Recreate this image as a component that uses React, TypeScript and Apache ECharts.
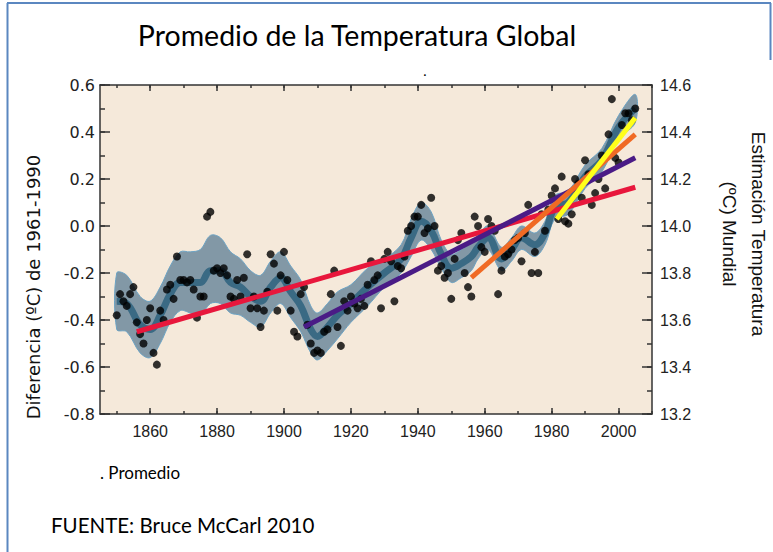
import React, { useEffect, useRef } from "react";
import * as echarts from "echarts";

// Annual global temperature anomaly (°C, relative to 1961-1990), 1850..2005
const startYear = 1850;
const anomalies = [
  -0.38, -0.29, -0.32, -0.34, -0.29, -0.26, -0.41, -0.46, -0.5, -0.4,
  -0.35, -0.54, -0.59, -0.36, -0.4, -0.27, -0.25, -0.31, -0.13, -0.23,
  -0.23, -0.24, -0.23, -0.27, -0.39, -0.3, -0.3, 0.04, 0.06, -0.19,
  -0.18, -0.2, -0.18, -0.21, -0.3, -0.31, -0.23, -0.3, -0.22, -0.12,
  -0.35, -0.3, -0.35, -0.43, -0.36, -0.28, -0.12, -0.16, -0.36, -0.21,
  -0.11, -0.23, -0.36, -0.45, -0.47, -0.29, -0.26, -0.42, -0.5, -0.54,
  -0.53, -0.54, -0.45, -0.44, -0.29, -0.19, -0.43, -0.51, -0.32, -0.36,
  -0.3, -0.33, -0.35, -0.31, -0.34, -0.25, -0.15, -0.23, -0.21, -0.35,
  -0.14, -0.11, -0.15, -0.32, -0.17, -0.18, -0.13, -0.02, 0.0, 0.04,
  0.04, 0.09, -0.03, -0.01, 0.12, 0.0, -0.19, -0.17, -0.22, -0.2,
  -0.31, -0.14, -0.06, -0.03, -0.2, -0.26, -0.3, 0.04, 0.0, -0.09,
  -0.11, 0.03, 0.0, -0.02, -0.29, -0.19, -0.13, -0.12, -0.1, -0.06,
  -0.05, -0.15, -0.03, 0.09, -0.2, -0.11, -0.2, 0.05, -0.02, 0.07,
  0.13, 0.16, 0.03, 0.21, 0.02, 0.01, 0.05, 0.2, 0.18, 0.12,
  0.28, 0.22, 0.09, 0.14, 0.2, 0.3, 0.16, 0.39, 0.54, 0.29,
  0.27, 0.43, 0.48, 0.48, 0.45, 0.5,
];

// Decadal smoothed curve and its uncertainty band
const smoothYears = [
  1850, 1853, 1857, 1860, 1863, 1866, 1869, 1872, 1875, 1878, 1881, 1884,
  1887, 1890, 1893, 1896, 1899, 1902, 1905, 1908, 1910, 1913, 1916, 1920,
  1925, 1930, 1935, 1938, 1941, 1944, 1947, 1950, 1953, 1956, 1958, 1961,
  1965, 1968, 1971, 1975, 1978, 1981, 1985, 1990, 1995, 2000, 2005,
];
const smoothValues = [
  -0.32, -0.33, -0.42, -0.44, -0.38, -0.29, -0.24, -0.24, -0.24, -0.19, -0.19, -0.24,
  -0.26, -0.3, -0.32, -0.26, -0.22, -0.28, -0.34, -0.44, -0.47, -0.43, -0.38, -0.33,
  -0.26, -0.2, -0.14, -0.05, 0.02, -0.02, -0.12, -0.18, -0.16, -0.13, -0.09, -0.05,
  -0.14, -0.1, -0.05, -0.08, -0.03, 0.08, 0.1, 0.21, 0.28, 0.42, 0.5,
];
const bandUpper = [
  -0.2, -0.21, -0.3, -0.32, -0.26, -0.17, -0.11, -0.11, -0.1, -0.04, -0.05, -0.11,
  -0.14, -0.19, -0.21, -0.15, -0.11, -0.17, -0.23, -0.34, -0.37, -0.33, -0.28, -0.25,
  -0.18, -0.14, -0.08, 0.03, 0.1, 0.06, -0.06, -0.12, -0.1, -0.07, -0.04, 0.0,
  -0.09, -0.05, 0.0, -0.03, 0.02, 0.13, 0.15, 0.26, 0.33, 0.47, 0.56,
];
const bandLower = [
  -0.44, -0.45, -0.54, -0.56, -0.5, -0.41, -0.36, -0.37, -0.38, -0.33, -0.33, -0.37,
  -0.38, -0.41, -0.43, -0.37, -0.33, -0.39, -0.45, -0.54, -0.57, -0.53, -0.48, -0.41,
  -0.34, -0.26, -0.2, -0.13, -0.06, -0.1, -0.18, -0.24, -0.22, -0.19, -0.14, -0.1,
  -0.19, -0.15, -0.1, -0.13, -0.08, 0.03, 0.05, 0.16, 0.23, 0.37, 0.44,
];

// Linear trends: 150, 100, 50 and 25 years
const trendColors = ["#e8173c", "#4a1b86", "#f06a24", "#ffff1a"];
const trendStartYears = [1856, 1906, 1956, 1981.5];
const trendStartValues = [-0.45, -0.43, -0.22, 0.03];
const trendEndYears = [2005, 2005, 2005, 2005];
const trendEndValues = [0.165, 0.29, 0.39, 0.46];

const xMajorTicks = [1860, 1880, 1900, 1920, 1940, 1960, 1980, 2000];
const xMinorTicks = [1850, 1860, 1870, 1880, 1890, 1900, 1910, 1920, 1930, 1940, 1950, 1960, 1970, 1980, 1990, 2000, 2010];

const axisColor = "#333333";

export default function App() {
  const ref = useRef<HTMLDivElement>(null);

  useEffect(() => {
    if (!ref.current) return;
    const chart = echarts.init(ref.current, undefined, { renderer: "svg" });

    const scatterData = anomalies.map((v, i) => [startYear + i, v]);
    const smoothData = smoothYears.map((y, i) => [y, smoothValues[i]]);

    const commonX = { type: "value", min: 1845, max: 2010, gridIndex: 0, splitLine: { show: false } };
    const commonY = { type: "value", gridIndex: 0, splitLine: { show: false } };
    const tickStyle = { color: axisColor, width: 1.5 };

    const trendSeries = trendColors.map((c, i) => ({
      type: "line",
      xAxisIndex: 0,
      yAxisIndex: 0,
      data: [
        [trendStartYears[i], trendStartValues[i]],
        [trendEndYears[i], trendEndValues[i]],
      ],
      symbol: "none",
      lineStyle: { color: c, width: 5 },
      z: 5 + i,
      silent: true,
    }));

    chart.setOption({
      animation: false,
      backgroundColor: "#ffffff",
      grid: {
        left: 100,
        top: 85,
        width: 552,
        height: 329,
        show: true,
        backgroundColor: "#f5e9da",
        borderWidth: 0,
      },
      xAxis: [
        {
          ...commonX,
          position: "bottom",
          axisLine: { show: true, onZero: false, lineStyle: tickStyle },
          axisTick: { show: true, inside: true, length: 6, customValues: xMajorTicks, lineStyle: tickStyle },
          axisLabel: {
            show: true,
            customValues: xMajorTicks,
            margin: 9,
            fontFamily: "Liberation Sans",
            fontSize: 16,
            color: "#222",
            formatter: (v: number) => String(Math.round(v)),
          },
        },
        {
          ...commonX,
          position: "bottom",
          axisLine: { show: false, onZero: false },
          axisTick: { show: true, inside: true, length: 3, customValues: xMinorTicks, lineStyle: tickStyle },
          axisLabel: { show: false },
        },
        {
          ...commonX,
          position: "top",
          axisLine: { show: true, onZero: false, lineStyle: tickStyle },
          axisTick: { show: true, inside: true, length: 6, customValues: xMajorTicks, lineStyle: tickStyle },
          axisLabel: { show: false },
        },
        {
          ...commonX,
          position: "top",
          axisLine: { show: false, onZero: false },
          axisTick: { show: true, inside: true, length: 3, customValues: xMinorTicks, lineStyle: tickStyle },
          axisLabel: { show: false },
        },
      ],
      yAxis: [
        {
          ...commonY,
          position: "left",
          min: -0.8,
          max: 0.6,
          interval: 0.2,
          axisLine: { show: true, onZero: false, lineStyle: tickStyle },
          axisTick: { show: true, inside: true, length: 10, lineStyle: tickStyle },
          axisLabel: {
            show: true,
            margin: 5,
            fontFamily: "DejaVu Sans",
            fontSize: 16,
            color: "#222",
            formatter: (v: number) => v.toFixed(1),
          },
        },
        {
          ...commonY,
          position: "left",
          min: -0.8,
          max: 0.6,
          interval: 0.1,
          axisLine: { show: false, onZero: false },
          axisTick: { show: true, inside: true, length: 5, lineStyle: tickStyle },
          axisLabel: { show: false },
        },
        {
          ...commonY,
          position: "right",
          min: 13.2,
          max: 14.6,
          interval: 0.2,
          axisLine: { show: true, onZero: false, lineStyle: tickStyle },
          axisTick: { show: true, inside: true, length: 10, lineStyle: tickStyle },
          axisLabel: {
            show: true,
            margin: 8,
            fontFamily: "Liberation Sans",
            fontSize: 16,
            color: "#222",
            formatter: (v: number) => v.toFixed(1),
          },
        },
        {
          ...commonY,
          position: "right",
          min: 13.2,
          max: 14.6,
          interval: 0.1,
          axisLine: { show: false, onZero: false },
          axisTick: { show: true, inside: true, length: 5, lineStyle: tickStyle },
          axisLabel: { show: false },
        },
      ],
      series: [
        {
          type: "custom",
          xAxisIndex: 0,
          yAxisIndex: 0,
          data: [0],
          clip: true,
          z: 1,
          silent: true,
          renderItem: (_params: any, api: any) => {
            const pts: number[][] = [];
            smoothYears.forEach((y, i) => pts.push(api.coord([y, bandUpper[i]])));
            for (let i = smoothYears.length - 1; i >= 0; i--) {
              pts.push(api.coord([smoothYears[i], bandLower[i]]));
            }
            return {
              type: "polygon",
              shape: { points: pts, smooth: 0.35 },
              style: { fill: "#8298a6", stroke: "#6ca3c4", lineWidth: 1 },
            };
          },
        },
        {
          type: "line",
          xAxisIndex: 0,
          yAxisIndex: 0,
          data: smoothData,
          smooth: 0.4,
          symbol: "none",
          lineStyle: { color: "#3a6a84", width: 7 },
          z: 2,
          silent: true,
        },
        {
          type: "scatter",
          xAxisIndex: 0,
          yAxisIndex: 0,
          data: scatterData,
          symbol: "circle",
          symbolSize: 8,
          itemStyle: { color: "#000000" },
          z: 3,
          silent: true,
        },
        ...trendSeries,
      ],
      graphic: [
        { type: "line", shape: { x1: 7.5, y1: 3, x2: 7.5, y2: 552 }, style: { stroke: "#5b87c0", lineWidth: 2 } },
        { type: "line", shape: { x1: 7, y1: 3, x2: 771, y2: 3 }, style: { stroke: "#5b87c0", lineWidth: 2 } },
        { type: "line", shape: { x1: 770.5, y1: 3, x2: 770.5, y2: 60 }, style: { stroke: "#5b87c0", lineWidth: 2 } },
        {
          type: "text",
          x: 357,
          y: 35,
          style: {
            text: "Promedio de la Temperatura Global",
            fontFamily: "Lato",
            fontSize: 28.5,
            fill: "#000",
            align: "center",
            verticalAlign: "middle",
          },
        },
        {
          type: "text",
          x: 425,
          y: 70,
          style: { text: ".", fontFamily: "Lato", fontSize: 14, fill: "#000", align: "center", verticalAlign: "middle" },
        },
        {
          type: "text",
          x: 33,
          y: 287,
          rotation: Math.PI / 2,
          style: {
            text: "Diferencia (ºC) de 1961-1990",
            fontFamily: "DejaVu Sans",
            fontSize: 18,
            fill: "#111",
            align: "center",
            verticalAlign: "middle",
          },
        },
        {
          type: "text",
          x: 744,
          y: 234,
          rotation: -Math.PI / 2,
          style: {
            text: "Estimación Temperatura\n(ºC) Mundial",
            fontFamily: "Liberation Sans",
            fontSize: 19,
            lineHeight: 29,
            fill: "#111",
            align: "center",
            verticalAlign: "middle",
          },
        },
        {
          type: "text",
          x: 100,
          y: 472,
          style: { text: ". Promedio", fontFamily: "Lato", fontSize: 17, fill: "#000", align: "left", verticalAlign: "middle" },
        },
        {
          type: "text",
          x: 51,
          y: 525,
          style: { text: "FUENTE: Bruce McCarl 2010", fontFamily: "Lato", fontSize: 20.5, fill: "#000", align: "left", verticalAlign: "middle" },
        },
      ],
    });

    return () => {
      chart.dispose();
    };
  }, []);

  return (
    <div
      ref={ref}
      style={{ position: "fixed", left: 0, top: 0, width: 773, height: 552 }}
    />
  );
}
